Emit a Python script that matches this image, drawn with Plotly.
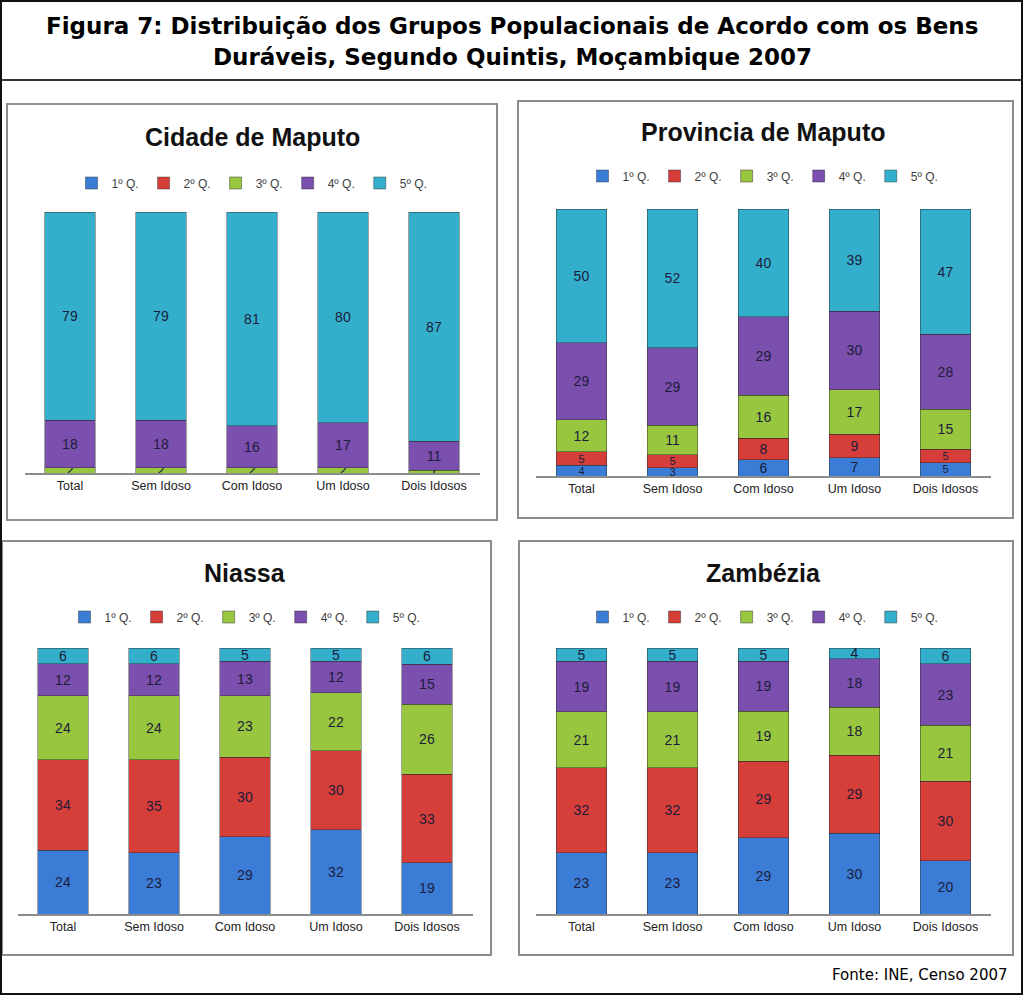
import plotly.graph_objects as go

W, H = 1024, 996

categories = ["Total", "Sem Idoso", "Com Idoso", "Um Idoso", "Dois Idosos"]
series_names = ["1º Q.", "2º Q.", "3º Q.", "4º Q.", "5º Q."]
colors = ["#3B7DD6", "#D63E3A", "#98C63E", "#7B4FAE", "#33AFCC"]

# Cidade de Maputo
cm_q1 = [0, 0, 0, 0, 0]
cm_q2 = [0, 0, 0, 0, 0]
cm_q3 = [2, 2, 2, 2, 1]
cm_q4 = [18, 18, 16, 17, 11]
cm_q5 = [79, 79, 81, 80, 87]

# Provincia de Maputo
pm_q1 = [4, 3, 6, 7, 5]
pm_q2 = [5, 5, 8, 9, 5]
pm_q3 = [12, 11, 16, 17, 15]
pm_q4 = [29, 29, 29, 30, 28]
pm_q5 = [50, 52, 40, 39, 47]

# Niassa
ni_q1 = [24, 23, 29, 32, 19]
ni_q2 = [34, 35, 30, 30, 33]
ni_q3 = [24, 24, 23, 22, 26]
ni_q4 = [12, 12, 13, 12, 15]
ni_q5 = [6, 6, 5, 5, 6]

# Zambézia
za_q1 = [23, 23, 29, 30, 20]
za_q2 = [32, 32, 29, 29, 30]
za_q3 = [21, 21, 19, 18, 21]
za_q4 = [19, 19, 19, 18, 23]
za_q5 = [5, 5, 5, 4, 6]

panel_titles = ["Cidade de Maputo", "Provincia de Maputo", "Niassa", "Zambézia"]
panel_data = [
    [cm_q1, cm_q2, cm_q3, cm_q4, cm_q5],
    [pm_q1, pm_q2, pm_q3, pm_q4, pm_q5],
    [ni_q1, ni_q2, ni_q3, ni_q4, ni_q5],
    [za_q1, za_q2, za_q3, za_q4, za_q5],
]


def fx(px):
    return px / W


def fy(py):
    return 1 - py / H


# label font sizes (style): smaller where two thin segments are stacked
big = [14] * 5
crowded = [11, 11, 14, 14, 11]

# panel geometry (pixels) and label font sizes per series
panels = [
    dict(box=(7, 104, 497, 520), xd=(24.5, 479.5), yd=(473, 212), title_y=137, leg_y=183, cx=252,
         fs=[big] * 5),
    dict(box=(518, 101, 1013, 518), xd=(536, 991), yd=(476, 209), title_y=132, leg_y=176, cx=763,
         fs=[crowded, crowded, big, big, big]),
    dict(box=(2, 541, 491, 955), xd=(17.5, 472.5), yd=(914, 648), title_y=573, leg_y=617, cx=245,
         fs=[big] * 5),
    dict(box=(519, 541, 1013, 955), xd=(536, 991), yd=(914, 648), title_y=573, leg_y=617, cx=763,
         fs=[big] * 5),
]

fig = go.Figure()
layout = dict(
    width=W, height=H,
    margin=dict(l=0, r=0, t=0, b=0),
    paper_bgcolor="white", plot_bgcolor="white",
    barmode="stack", barnorm="percent", bargap=0.45,
    showlegend=True,
    font=dict(family="Liberation Sans, Arial", color="#222222"),
)

shapes = []
annotations = []

for i, p in enumerate(panels):
    n = "" if i == 0 else str(i + 1)
    xa, ya = "x" + n, "y" + n
    leg = "legend" + n
    for s in range(5):
        vals = panel_data[i][s]
        fig.add_trace(go.Bar(
            x=categories, y=vals, name=series_names[s],
            xaxis=xa, yaxis=ya, legend=leg,
            marker=dict(color=colors[s], line=dict(color="rgba(40,40,40,0.55)", width=0.8)),
            text=[str(v) for v in vals], textposition="inside", textangle=0,
            insidetextanchor="middle", constraintext="none",
            textfont=dict(size=p["fs"][s], color="#1C1C3A", family="Liberation Sans, Arial"),
            hoverinfo="x+y+name",
        ))
    layout["xaxis" + n] = dict(
        domain=[fx(p["xd"][0]), fx(p["xd"][1])], anchor=ya,
        showgrid=False, showline=True, linecolor="#8C8C8C", linewidth=2,
        ticks="", tickfont=dict(size=12.5, color="#222222"), fixedrange=True,
    )
    layout["yaxis" + n] = dict(
        domain=[fy(p["yd"][0]), fy(p["yd"][1])], anchor=xa,
        range=[0, 100], showgrid=False, showticklabels=False, zeroline=False,
        showline=False, fixedrange=True,
    )
    layout[leg] = dict(
        orientation="h", x=fx(p["cx"]), y=fy(p["leg_y"]), xanchor="center", yanchor="middle",
        font=dict(size=12, color="#404040"), itemwidth=30,
        bgcolor="rgba(0,0,0,0)", traceorder="normal",
    )
    b = p["box"]
    shapes.append(dict(type="rect", xref="paper", yref="paper",
                       x0=fx(b[0]), x1=fx(b[2]), y0=fy(b[3]), y1=fy(b[1]),
                       line=dict(color="#8C8C8C", width=2)))
    annotations.append(dict(text="<b>" + panel_titles[i] + "</b>", xref="paper", yref="paper",
                            x=fx(p["cx"]), y=fy(p["title_y"]), xanchor="center", yanchor="middle",
                            showarrow=False, font=dict(size=25, color="#111111", family="Liberation Sans, Arial")))

# outer border and title separator
shapes.append(dict(type="rect", xref="paper", yref="paper", x0=fx(1), x1=fx(1022), y0=fy(994), y1=fy(1),
                   line=dict(color="#111111", width=2)))
shapes.append(dict(type="line", xref="paper", yref="paper", x0=fx(1), x1=fx(1022), y0=fy(80), y1=fy(80),
                   line=dict(color="#333333", width=2)))

annotations.append(dict(text="<b>Figura 7: Distribuição dos Grupos Populacionais de Acordo com os Bens</b>",
                        xref="paper", yref="paper", x=0.5, y=fy(26), xanchor="center", yanchor="middle",
                        showarrow=False, font=dict(size=23, color="#000000", family="DejaVu Sans, Verdana")))
annotations.append(dict(text="<b>Duráveis, Segundo Quintis, Moçambique 2007</b>",
                        xref="paper", yref="paper", x=0.5, y=fy(57), xanchor="center", yanchor="middle",
                        showarrow=False, font=dict(size=23, color="#000000", family="DejaVu Sans, Verdana")))
annotations.append(dict(text="Fonte: INE, Censo 2007", xref="paper", yref="paper",
                        x=fx(1010), y=fy(975), xanchor="right", yanchor="middle", showarrow=False,
                        font=dict(size=15, color="#000000", family="DejaVu Sans, Verdana")))

layout["shapes"] = shapes
layout["annotations"] = annotations
fig.update_layout(**layout)

fig.write_html("out.html", config={"displayModeBar": False},
               post_script="document.body.style.margin='0px';")
